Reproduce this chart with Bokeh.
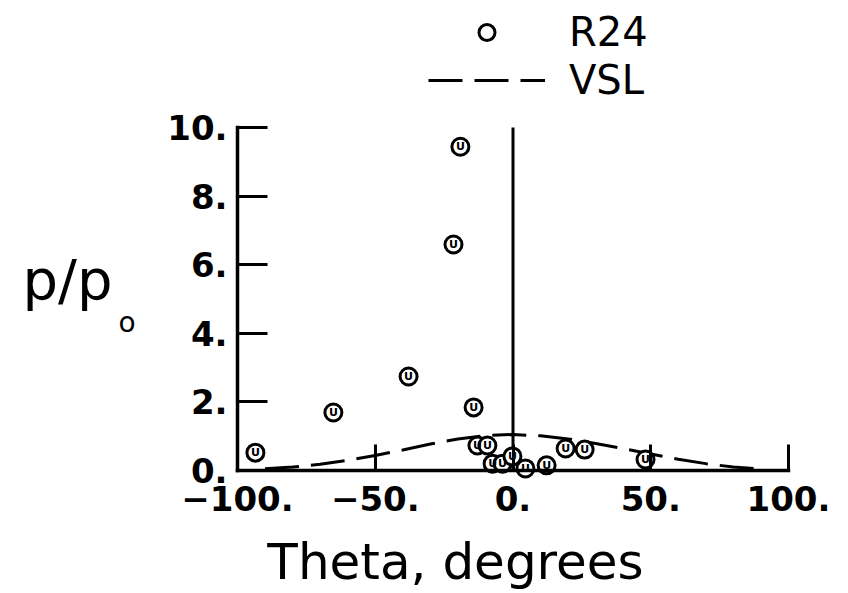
from bokeh.plotting import figure
from bokeh.models import Range1d, FixedTicker, Label, Legend, LegendItem, ColumnDataSource
from bokeh.core.properties import value
from bokeh.embed import file_html
from bokeh.resources import INLINE

# ---- data ----
r24_theta = [-93.5, -65.2, -37.9, -21.6, -19.1, -14.3, -12.9, -9.3, -7.4, -3.8, -0.2, 4.5, 12.2, 19.1, 26.0, 48.1]
r24_p = [0.52, 1.69, 2.74, 6.59, 9.44, 1.84, 0.73, 0.73, 0.20, 0.20, 0.41, 0.06, 0.15, 0.64, 0.61, 0.32]

vsl_theta = [-90, -80, -70, -60, -50, -40, -30, -20, -10, 0, 10, 20, 30, 40, 50, 60, 70, 80, 90]
vsl_p = [0.05, 0.10, 0.18, 0.30, 0.44, 0.60, 0.77, 0.92, 1.02, 1.05, 1.01, 0.92, 0.79, 0.64, 0.48, 0.33, 0.20, 0.10, 0.04]

x_ticks = [-100, -50, 0, 50, 100]
x_tick_labels = ["\u2212100.", "\u221250.", "0.", "50.", "100."]
y_ticks = [0, 2, 4, 6, 8, 10]
y_tick_labels = ["0.", "2.", "4.", "6.", "8.", "10."]

x_min, x_max = -100, 100
y_min, y_max = 0, 10
theta_ref = 0
x_title = "Theta, degrees"
y_title_main = "p/p"
y_title_sub = "o"

FONT = "DejaVu Sans"
W, H = 848, 593
# pixel placement of the data box inside the canvas
LEFT_PX, RIGHT_PX, TOP_PX, BOTTOM_PX = 237, 788, 127, 470
kx = (RIGHT_PX - LEFT_PX) / (x_max - x_min)
ky = (BOTTOM_PX - TOP_PX) / (y_max - y_min)


def px2x(px):
    return x_min + (px - LEFT_PX) / kx


def py2y(py):
    return y_min + (BOTTOM_PX - py) / ky


p = figure(width=W, height=H, output_backend="svg", toolbar_location=None,
           x_range=Range1d(px2x(0), px2x(W)), y_range=Range1d(py2y(H), py2y(0)),
           min_border=0)
p.title.visible = False
p.outline_line_color = None
p.xgrid.visible = False
p.ygrid.visible = False
p.background_fill_color = "white"
p.border_fill_color = "white"

for ax, ticks, labels, loc, bnds in ((p.xaxis[0], x_ticks, x_tick_labels, y_min, (x_min, x_max)),
                                     (p.yaxis[0], y_ticks, y_tick_labels, x_min, (y_min, y_max))):
    ax.fixed_location = loc
    ax.bounds = bnds
    ax.ticker = FixedTicker(ticks=ticks)
    ax.major_label_overrides = {t: l for t, l in zip(ticks, labels)}
    ax.axis_line_width = 3.5
    ax.axis_line_color = "black"
    ax.axis_line_cap = "square"
    ax.major_tick_line_width = 3
    ax.major_tick_line_color = "black"
    ax.major_tick_out = 0
    ax.minor_tick_line_color = None
    ax.major_label_text_font = FONT
    ax.major_label_text_font_style = "bold"
    ax.major_label_text_font_size = "34px"
    ax.major_label_text_color = "black"

p.xaxis.major_tick_in = 26
p.yaxis.major_tick_in = 30
p.xaxis.major_label_standoff = 15
p.yaxis.major_label_standoff = 10

# reference line at theta = 0
p.segment(x0=[theta_ref], y0=[y_min], x1=[theta_ref], y1=[y_max], line_color="black", line_width=3)

src = ColumnDataSource(dict(x=r24_theta, y=r24_p, t=["U"] * len(r24_theta)))
vsl = p.line(vsl_theta, vsl_p, line_color="black", line_width=3, line_dash="34 12")
pts = p.scatter("x", "y", source=src, marker="circle", size=17, line_width=3,
                line_color="black", fill_color="white")
p.text("x", "y", text="t", source=src, text_font=value(FONT), text_font_style="bold",
       text_font_size="11px", text_align="center", text_baseline="middle", text_color="black")


def legend_row(label, renderer, center_py):
    row_h = 46
    return Legend(items=[LegendItem(label=label, renderers=[renderer])],
                  location=(428, H - (center_py + row_h / 2)), border_line_color=None,
                  background_fill_alpha=0, padding=0, margin=0, glyph_width=117, glyph_height=40,
                  label_height=40, spacing=0, label_standoff=24, label_text_font=FONT,
                  label_text_font_size="40px", label_text_color="black")


p.add_layout(legend_row("R24", pts, 32))
p.add_layout(legend_row("VSL", vsl, 80))

p.add_layout(Label(x=px2x(455), y=py2y(561), text=x_title, text_font=FONT, text_font_size="50px",
                   text_align="center", text_baseline="alphabetic", text_color="black"))
p.add_layout(Label(x=px2x(22), y=py2y(279), text=y_title_main, text_font=FONT, text_font_size="56px",
                   text_align="left", text_baseline="alphabetic", text_color="black"))
p.add_layout(Label(x=px2x(118), y=py2y(322), text=y_title_sub, text_font=FONT, text_font_size="28px",
                   text_align="left", text_baseline="alphabetic", text_color="black"))

open("out.html", "w").write(file_html(p, INLINE))
